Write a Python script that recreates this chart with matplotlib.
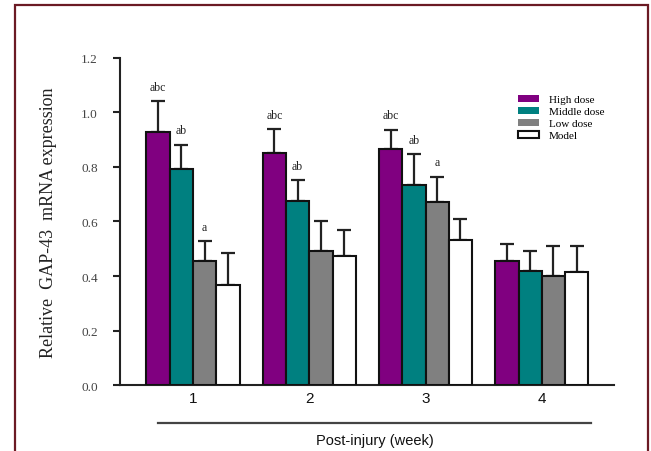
import numpy as np
import matplotlib.pyplot as plt
from matplotlib.patches import Patch, Rectangle
from matplotlib.lines import Line2D

# data
weeks = ['1', '2', '3', '4']
groups = ['High dose', 'Middle dose', 'Low dose', 'Model']
colors = ['#800080', '#008080', '#808080', '#ffffff']

high = [0.928, 0.853, 0.865, 0.456]
middle = [0.794, 0.676, 0.735, 0.420]
low = [0.456, 0.493, 0.670, 0.401]
model = [0.367, 0.473, 0.532, 0.416]

high_err = [0.114, 0.085, 0.072, 0.060]
middle_err = [0.088, 0.075, 0.111, 0.071]
low_err = [0.072, 0.110, 0.095, 0.109]
model_err = [0.117, 0.095, 0.077, 0.094]

high_sig = ['abc', 'abc', 'abc', '']
middle_sig = ['ab', 'ab', 'ab', '']
low_sig = ['a', '', 'a', '']
model_sig = ['', '', '', '']

values = [high, middle, low, model]
errors = [high_err, middle_err, low_err, model_err]
letters = [high_sig, middle_sig, low_sig, model_sig]

serif = ['Liberation Serif', 'DejaVu Serif']
sans = ['Liberation Sans', 'DejaVu Sans']

fig = plt.figure(figsize=(6.51, 4.52), dpi=100)
ax = fig.add_axes([0.1843, 0.146, 0.7588, 0.7235])

x = np.arange(1, len(weeks) + 1)
width = 0.2

for i in range(4):
    pos = x + (i - 1.5) * width
    ax.bar(pos, values[i], width, color=colors[i], edgecolor='#111111',
           linewidth=1.5, zorder=3)
    ax.errorbar(pos, values[i], yerr=[np.zeros(4), errors[i]], fmt='none',
                ecolor='#222222', elinewidth=1.6, capsize=5, capthick=1.6,
                zorder=2)
    for p, v, e, s in zip(pos, values[i], errors[i], letters[i]):
        if s:
            ax.annotate(s, (p, v + e), xytext=(0, 6), textcoords='offset points',
                        ha='center', va='bottom', fontsize=8.5, family=serif,
                        color='#222222')

ax.set_xlim(0.372, 4.62)
ax.set_ylim(0, 1.2)
ax.set_yticks(np.arange(0, 1.21, 0.2))
ax.set_yticklabels(['%.1f' % t for t in np.arange(0, 1.21, 0.2)],
                   family=serif, fontsize=9.5, color='#444444')
ax.set_xticks(x)
ax.set_xticklabels(weeks, family=sans, fontsize=11, color='#111111')
ax.tick_params(axis='x', length=0, pad=4)
ax.tick_params(axis='y', length=5, width=1.5, pad=11, color='#222222')

for side in ['top', 'right']:
    ax.spines[side].set_visible(False)
for side in ['left', 'bottom']:
    ax.spines[side].set_linewidth(1.5)
    ax.spines[side].set_color('#222222')

ax.set_ylabel('Relative  GAP-43  mRNA expression', family=serif, fontsize=13,
              color='#222222', labelpad=17)

handles = [Patch(facecolor=colors[i], edgecolor='none' if i < 3 else '#111111',
                 linewidth=1.5) for i in range(4)]
fig.legend(handles, groups, loc='upper left', bbox_to_anchor=(0.7865, 0.80),
           frameon=False, borderpad=0, prop={'family': serif, 'size': 8},
           handlelength=1.9, handleheight=0.55, handletextpad=0.9,
           labelspacing=0.25)

# line under the axis and the axis title
fig.add_artist(Line2D([158 / 651, 591 / 651], [1 - 424 / 452, 1 - 424 / 452],
                      color='#444444', linewidth=1.6))
fig.text(374.5 / 651, 1 - 441 / 452, 'Post-injury (week)', family=sans,
         fontsize=10.5, ha='center', va='center', color='#111111')

# outer frame
fig.add_artist(Rectangle((15 / 651, -0.05), 633 / 651, 1.05 - 6 / 452,
                         transform=fig.transFigure, fill=False,
                         edgecolor='#6b1a24', linewidth=1.6))

fig.savefig('out.png', dpi=100)
